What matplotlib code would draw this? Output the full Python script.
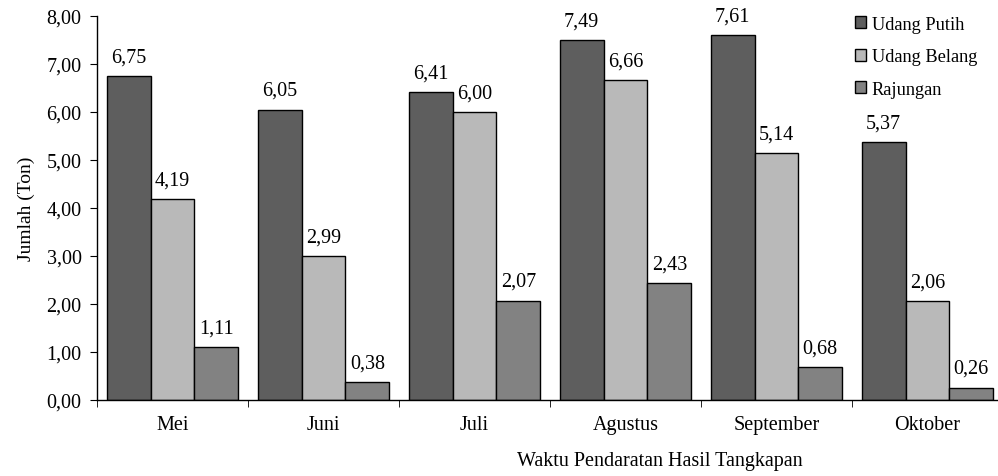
import matplotlib
matplotlib.use("Agg")
import matplotlib.pyplot as plt
import numpy as np
from matplotlib.ticker import FixedLocator, NullFormatter

months = ["Mei", "Juni", "Juli", "Agustus", "September", "Oktober"]
series_names = ["Udang Putih", "Udang Belang", "Rajungan"]
udang_putih = [6.75, 6.05, 6.41, 7.49, 7.61, 5.37]
udang_belang = [4.19, 2.99, 6.00, 6.66, 5.14, 2.06]
rajungan = [1.11, 0.38, 2.07, 2.43, 0.68, 0.26]
colors = ["#5e5e5e", "#b9b9b9", "#828282"]

plt.rcParams['font.family'] = ['Liberation Serif', 'DejaVu Serif']

fig = plt.figure(figsize=(9.98, 4.77), dpi=100)
ax = fig.add_axes([97/998, 1-401/477, 906/998, 384/477])

x = np.arange(len(months))
w = 0.29
data = [udang_putih, udang_belang, rajungan]
for i, (vals, name, c) in enumerate(zip(data, series_names, colors)):
    pos = x + (i - 1) * w
    ax.bar(pos, vals, width=w, color=c, edgecolor="black", linewidth=1.0, label=name)
    for xb, v in zip(pos, vals):
        ax.text(xb, v + 0.2, f"{v:.2f}".replace(".", ","), ha="center", va="bottom", fontsize=14.5)

ax.set_xlim(-0.5, len(months) - 0.5)
ax.set_ylim(0, 8)
ax.set_yticks(np.arange(0, 8.01, 1))
ax.set_yticklabels([f"{v:.2f}".replace(".", ",") for v in np.arange(0, 8.01, 1)], fontsize=14.5)
ax.set_xticks(x)
ax.set_xticklabels(months, fontsize=14.5)
ax.tick_params(axis="x", which="major", length=0, pad=11)
ax.xaxis.set_minor_locator(FixedLocator(np.arange(-0.5, len(months), 1)))
ax.xaxis.set_minor_formatter(NullFormatter())
ax.tick_params(axis="x", which="minor", length=5, direction="out")
ax.tick_params(axis="y", length=5, direction="out", pad=6)
for s in ["top", "right"]:
    ax.spines[s].set_visible(False)
ax.spines["left"].set_linewidth(1.0)
ax.spines["bottom"].set_linewidth(1.0)

ax.set_ylabel("Jumlah (Ton)", fontsize=14, labelpad=8)
fig.text(660/998, 1-462/477, "Waktu Pendaratan Hasil Tangkapan", ha="center", va="center", fontsize=14.5)

fig.legend(loc="upper left", bbox_to_anchor=(838/998, 1.0), frameon=False, fontsize=13.2,
           handlelength=0.65, handleheight=0.65, handletextpad=0.3, labelspacing=0.85)

fig.savefig("out.png", dpi=100)
